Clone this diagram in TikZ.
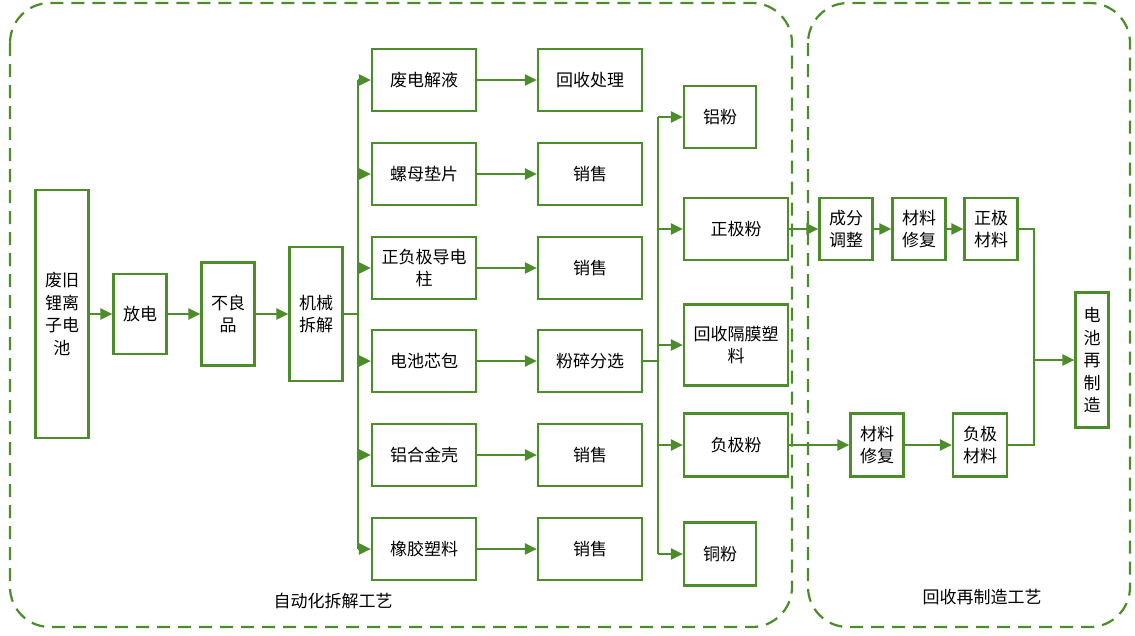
\documentclass[tikz,border=0pt]{standalone}
\usepackage{fontspec}
\newfontfamily\cjk{Noto Sans CJK SC}
\usetikzlibrary{arrows.meta}
\definecolor{flowgreen}{RGB}{77,140,42}

\begin{document}
\begin{tikzpicture}[x=1pt, y=-1pt,
    box/.style={draw=flowgreen, line width=2.2pt, inner sep=0pt, align=center,
        font=\cjk\fontsize{17}{22.5}\selectfont},
    sz/.style 2 args={minimum width=#1, minimum height=#2},
    link/.style={draw=flowgreen, line width=2.2pt, -{Triangle[length=12pt,width=11pt]}},
    line/.style={draw=flowgreen, line width=2.2pt},
    zone/.style={draw=flowgreen, line width=2.2pt, dash pattern=on 13pt off 8pt, rounded corners=40pt},
    tag/.style={font=\cjk\fontsize{17}{22}\selectfont}]
    \useasboundingbox (0,0) rectangle (1135,635);

    % Zones
    \draw[zone] (10,3) rectangle (792,627);
    \draw[zone] (808,3) rectangle (1130,627);
    \node[tag] (zoneA) at (333,601) {自动化拆解工艺};
    \node[tag] (zoneB) at (982,597) {回收再制造工艺};

    % Nodes (main line)
    \node[box, sz={53}{248}] (bat) at (62,314) {废旧\\锂离\\子电\\池};
    \node[box, sz={53}{80}] (dis) at (140,314) {放电};
    \node[box, sz={53}{103}] (bad) at (228,314) {不良\\品};
    \node[box, sz={53}{134}] (mech) at (316,314) {机械\\拆解};

    % Nodes (disassembly parts)
    \node[box, sz={104}{62}] (elec) at (424,80) {废电解液};
    \node[box, sz={104}{62}] (nut) at (424,174) {螺母垫片};
    \node[box, sz={104}{62}] (pole) at (424,268) {正负极导电\\柱};
    \node[box, sz={104}{62}] (core) at (424,361) {电池芯包};
    \node[box, sz={104}{62}] (shell) at (424,455) {铝合金壳};
    \node[box, sz={104}{62}] (rub) at (424,549) {橡胶塑料};

    % Nodes (treatment)
    \node[box, sz={104}{62}] (recy) at (590,80) {回收处理};
    \node[box, sz={104}{62}] (sell1) at (590,174) {销售};
    \node[box, sz={104}{62}] (sell2) at (590,268) {销售};
    \node[box, sz={104}{62}] (crush) at (590,361) {粉碎分选};
    \node[box, sz={104}{62}] (sell3) at (590,455) {销售};
    \node[box, sz={104}{62}] (sell4) at (590,549) {销售};

    % Nodes (powders)
    \node[box, sz={72}{62}] (al) at (720,117) {铝粉};
    \node[box, sz={104}{62}] (cath) at (736,229) {正极粉};
    \node[box, sz={104}{81}] (sep) at (736,345) {回收隔膜塑\\料};
    \node[box, sz={104}{63}] (anod) at (736,445) {负极粉};
    \node[box, sz={72}{63}] (cu) at (720,554) {铜粉};

    % Nodes (remanufacturing)
    \node[box, sz={53}{62}] (adj) at (846,229) {成分\\调整};
    \node[box, sz={53}{62}] (fix1) at (919,229) {材料\\修复};
    \node[box, sz={53}{62}] (pmat) at (991,229) {正极\\材料};
    \node[box, sz={53}{63}] (fix2) at (877,445) {材料\\修复};
    \node[box, sz={54}{63}] (nmat) at (980,445) {负极\\材料};
    \node[box, sz={33}{135}] (remake) at (1092,360) {电\\池\\再\\制\\造};

    % Edges (main line)
    \draw[link] (bat) -- (dis);
    \draw[link] (dis) -- (bad);
    \draw[link] (bad) -- (mech);

    % Edges (first fork)
    \coordinate (fork1) at (358,314);
    \draw[line] (mech) -- (fork1);
    \draw[line] (fork1 |- elec) -- (fork1 |- rub);
    \foreach \n in {elec,nut,pole,core,shell,rub}
        \draw[link] (fork1 |- \n) -- (\n);
    \draw[link] (elec) -- (recy);
    \draw[link] (nut) -- (sell1);
    \draw[link] (pole) -- (sell2);
    \draw[link] (core) -- (crush);
    \draw[link] (shell) -- (sell3);
    \draw[link] (rub) -- (sell4);

    % Edges (second fork)
    \coordinate (fork2) at (658,361);
    \draw[line] (crush) -- (fork2);
    \draw[line] (fork2 |- al) -- (fork2 |- cu);
    \foreach \n in {al,cath,sep,anod,cu}
        \draw[link] (fork2 |- \n) -- (\n);

    % Edges (remanufacturing)
    \draw[link] (cath) -- (adj);
    \draw[link] (adj) -- (fix1);
    \draw[link] (fix1) -- (pmat);
    \draw[link] (anod) -- (fix2);
    \draw[link] (fix2) -- (nmat);
    \coordinate (merge) at (1034,360);
    \draw[line] (pmat.east) -| (merge |- nmat.east) -- (nmat.east);
    \draw[link] (merge) -- (remake);
\end{tikzpicture}
\end{document}
